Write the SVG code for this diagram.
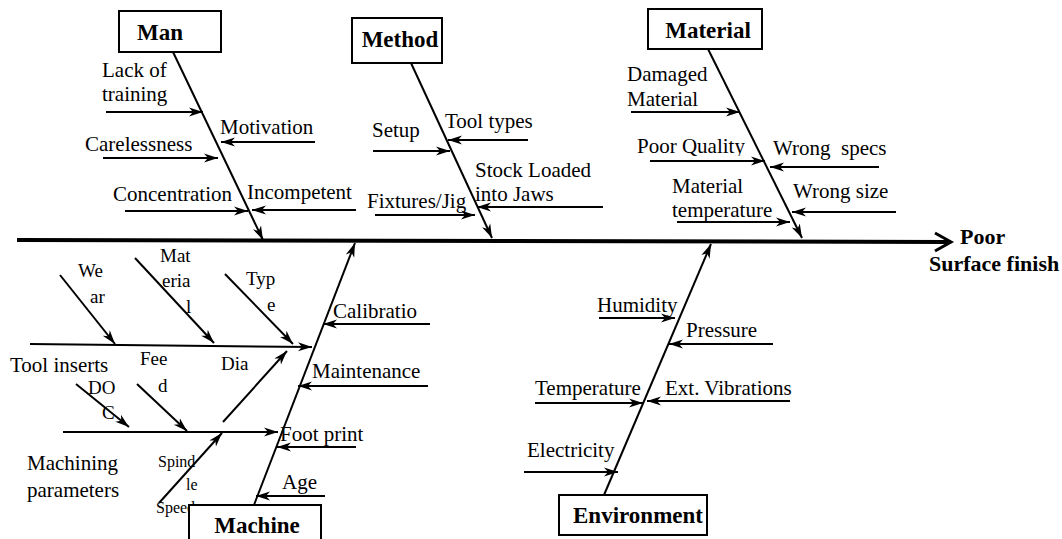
<svg xmlns="http://www.w3.org/2000/svg" width="1062" height="539" viewBox="0 0 1062 539">
<style>
text{font-family:"Liberation Serif","Times New Roman",serif;fill:#000}
.t{font-size:21px}
.s{font-size:19px}
.xs{font-size:16px}
.b{font-size:23px;font-weight:bold}
.h{font-size:22px;font-weight:bold}
.box{fill:#fff;stroke:#000;stroke-width:2}
.ar{stroke:#000;stroke-width:2;fill:none;marker-end:url(#ah)}
.bone{stroke:#000;stroke-width:2;fill:none;marker-end:url(#ah)}
</style>
<defs>
<marker id="ah" markerUnits="userSpaceOnUse" markerWidth="16" markerHeight="12" refX="14" refY="6" orient="auto">
<path d="M0,1.5 L14,6 L0,10.5 L4,6 z" fill="#000"/>
</marker>
<clipPath id="pq"><rect x="630" y="130" width="140" height="26"/></clipPath>
</defs>
<g id="connectors">
<line x1="17" y1="240" x2="948" y2="242" stroke="#000" stroke-width="4"/>
<polyline points="935,233 951,242 935,251" fill="none" stroke="#000" stroke-width="3"/>
<line class="bone" x1="173" y1="52" x2="263" y2="240"/>
<line class="bone" x1="411" y1="63" x2="492" y2="238"/>
<line class="bone" x1="708" y1="49" x2="802" y2="238"/>
<line class="bone" x1="254" y1="505" x2="355" y2="243"/>
<line class="bone" x1="604" y1="495" x2="711" y2="244"/>
<line class="ar" x1="106" y1="112" x2="203" y2="112"/>
<line class="ar" x1="315" y1="142" x2="221" y2="142"/>
<line class="ar" x1="103" y1="158" x2="218" y2="158"/>
<line class="ar" x1="125" y1="211" x2="248" y2="211"/>
<line class="ar" x1="356" y1="210" x2="252" y2="210"/>
<line class="ar" x1="373" y1="151" x2="450" y2="151"/>
<line class="ar" x1="528" y1="140" x2="448" y2="140"/>
<line class="ar" x1="603" y1="207" x2="477" y2="207"/>
<line class="ar" x1="375" y1="215" x2="475" y2="215"/>
<line class="ar" x1="631" y1="112" x2="740" y2="112"/>
<line class="ar" x1="650" y1="161" x2="765" y2="161"/>
<line class="ar" x1="879" y1="167" x2="770" y2="167"/>
<line class="ar" x1="677" y1="222" x2="790" y2="222"/>
<line class="ar" x1="896" y1="212" x2="792" y2="212"/>
<line class="ar" x1="430" y1="324" x2="323" y2="324"/>
<line class="ar" x1="428" y1="386" x2="298" y2="386"/>
<line class="ar" x1="356" y1="447" x2="277" y2="447"/>
<line class="ar" x1="325" y1="496" x2="256" y2="496"/>
<line class="ar" x1="30" y1="344" x2="312" y2="347"/>
<line class="ar" x1="60" y1="275" x2="115" y2="344"/>
<line class="ar" x1="135" y1="258" x2="214" y2="343"/>
<line class="ar" x1="225" y1="274" x2="293" y2="344"/>
<line class="ar" x1="223" y1="422" x2="287" y2="351"/>
<line class="ar" x1="137" y1="384" x2="187" y2="431"/>
<line class="ar" x1="76" y1="384" x2="129" y2="427"/>
<line class="ar" x1="63" y1="432" x2="278" y2="432"/>
<line class="ar" x1="159" y1="503" x2="222" y2="433"/>
<line class="ar" x1="599" y1="318" x2="675" y2="318"/>
<line class="ar" x1="773" y1="344" x2="669" y2="344"/>
<line class="ar" x1="535" y1="403" x2="643" y2="403"/>
<line class="ar" x1="790" y1="401" x2="647" y2="401"/>
<line class="ar" x1="524" y1="472" x2="618" y2="472"/>
</g>
<g id="effect">
<text class="h" x="960" y="244">Poor</text>
<text class="h" x="929" y="271">Surface finish</text>
</g>
<g id="man">
<rect class="box" x="119" y="11" width="102" height="41"/>
<text class="b" x="160" y="40" text-anchor="middle">Man</text>
<text class="t" x="102" y="77">Lack of</text>
<text class="t" x="102" y="101">training</text>
<text class="t" x="220" y="134">Motivation</text>
<text class="t" x="85" y="151">Carelessness</text>
<text class="t" x="113" y="201">Concentration</text>
<text class="t" x="247" y="199">Incompetent</text>
</g>
<g id="method">
<rect class="box" x="352" y="18" width="90" height="45"/>
<text class="b" x="400" y="47" text-anchor="middle">Method</text>
<text class="t" x="372" y="137">Setup</text>
<text class="t" x="445" y="128">Tool types</text>
<text class="t" x="475" y="177">Stock Loaded</text>
<text class="t" x="475" y="201">into Jaws</text>
<text class="t" x="367" y="208">Fixtures/Jig</text>
</g>
<g id="material">
<rect class="box" x="648" y="9" width="114" height="40"/>
<text class="b" x="708" y="38" text-anchor="middle">Material</text>
<text class="t" x="627" y="81">Damaged</text>
<text class="t" x="627" y="106">Material</text>
<text class="t" x="637" y="153" clip-path="url(#pq)">Poor Quality</text>
<text class="t" x="773" y="155" xml:space="preserve">Wrong  specs</text>
<text class="t" x="672" y="193">Material</text>
<text class="t" x="672" y="217">temperature</text>
<text class="t" x="793" y="198">Wrong size</text>
</g>
<g id="machine">
<text class="t" x="333" y="318">Calibratio</text>
<text class="t" x="312" y="378">Maintenance</text>
<text class="t" x="280" y="441">Foot print</text>
<text class="t" x="282" y="489">Age</text>
<text class="t" x="10" y="372">Tool inserts</text>
<text class="s" x="78" y="277">We</text>
<text class="s" x="90" y="303">ar</text>
<text class="s" x="160" y="262">Mat</text>
<text class="s" x="162" y="287">eria</text>
<text class="s" x="186" y="313">l</text>
<text class="s" x="246" y="285">Typ</text>
<text class="s" x="267" y="311">e</text>
<text class="s" x="221" y="370">Dia</text>
<text class="s" x="140" y="365">Fee</text>
<text class="s" x="158" y="392">d</text>
<text class="s" x="88" y="394">DO</text>
<text class="s" x="102" y="419">C</text>
<text class="t" x="27" y="470">Machining</text>
<text class="t" x="27" y="497">parameters</text>
<text class="xs" x="158" y="467">Spind</text>
<text class="xs" x="186" y="490">le</text>
<text class="xs" x="156" y="513">Speed</text>
<rect class="box" x="189" y="505" width="132" height="42"/>
<text class="b" x="257" y="533" text-anchor="middle">Machine</text>
</g>
<g id="environment">
<rect class="box" x="559" y="495" width="148" height="40"/>
<text class="b" x="638" y="523" text-anchor="middle">Environment</text>
<text class="t" x="597" y="312">Humidity</text>
<text class="t" x="686" y="337">Pressure</text>
<text class="t" x="535" y="395">Temperature</text>
<text class="t" x="665" y="395">Ext. Vibrations</text>
<text class="t" x="527" y="457">Electricity</text>
</g>
</svg>
